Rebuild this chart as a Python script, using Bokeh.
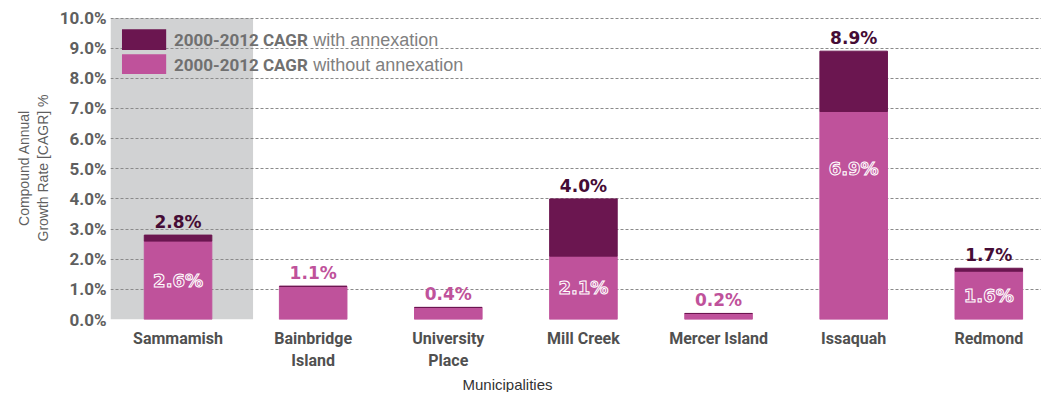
from bokeh.plotting import figure
from bokeh.models import Range1d, FixedTicker, Label, ColumnDataSource, Title
from bokeh.core.properties import value
from bokeh.embed import file_html
from bokeh.resources import INLINE

# ---- data ----
municipalities = ["Sammamish", "Bainbridge\nIsland", "University\nPlace", "Mill Creek",
                  "Mercer Island", "Issaquah", "Redmond"]
cagr_with_annexation = [2.8, 1.1, 0.4, 4.0, 0.2, 8.9, 1.7]
cagr_without_annexation = [2.6, 1.1, 0.4, 2.1, 0.2, 6.9, 1.6]
y_ticks = [0, 1, 2, 3, 4, 5, 6, 7, 8, 9, 10]

DARK = "#6b1650"
LIGHT = "#bf529b"
LABEL_DARK = "#450c35"
GRAY_TXT = "#5f5f5f"
BOLD_FONT = "Roboto"

idx = list(range(len(municipalities)))

p = figure(width=1041, height=392, output_backend="svg", toolbar_location=None,
           x_range=Range1d(-0.5, 6.39), y_range=Range1d(0, 10.05),
           min_border_left=110, min_border_right=0, min_border_top=16, min_border_bottom=73)
p.outline_line_color = None
p.background_fill_color = "white"

# gray highlight band behind Sammamish
p.quad(left=-0.5, right=0.555, bottom=0, top=10, fill_color="#d1d2d3", line_color=None, level="image")

# bars
p.vbar(x=idx, width=0.5, bottom=0, top=cagr_without_annexation, fill_color=LIGHT, line_color=LIGHT)
p.vbar(x=idx, width=0.5, bottom=cagr_without_annexation, top=cagr_with_annexation,
       fill_color=DARK, line_color=DARK)

# top labels
top_colors = [LABEL_DARK if w != wo else LIGHT for w, wo in zip(cagr_with_annexation, cagr_without_annexation)]
top_src = ColumnDataSource(dict(x=idx, y=cagr_with_annexation,
                                t=[f"{v:.1f}%" for v in cagr_with_annexation], c=top_colors))
p.text(x="x", y="y", text="t", source=top_src, text_color="c", text_align="center",
       text_baseline="bottom", y_offset=-3, text_font=value("DejaVu Sans"),
       text_font_style="bold", text_font_size="17px")

# inner labels (only where annexation changes the value)
ix, iy, it = [], [], []
for i, (w, wo) in enumerate(zip(cagr_with_annexation, cagr_without_annexation)):
    if w != wo:
        ix.append(i)
        iy.append(wo / 2 if wo < 5 else wo - 1.9)
        it.append(f"{wo:.1f}%")
p.text(x=ix, y=iy, text=it, text_color=LIGHT, text_outline_color="white",
       text_align="center", text_baseline="middle", text_font=value("DejaVu Sans"),
       text_font_style="bold", text_font_size="18px")

# axes
p.yaxis.ticker = FixedTicker(ticks=y_ticks)
p.yaxis.major_label_overrides = {t: f"{t:.1f}%" for t in y_ticks}
p.yaxis.axis_line_color = None
p.yaxis.major_tick_line_color = None
p.yaxis.minor_tick_line_color = None
p.yaxis.major_tick_out = 0
p.yaxis.major_tick_in = 0
p.yaxis.minor_tick_out = 0
p.yaxis.major_label_standoff = 4
p.yaxis.major_label_text_font = BOLD_FONT
p.yaxis.major_label_text_font_style = "bold"
p.yaxis.major_label_text_font_size = "17px"
p.yaxis.major_label_text_color = GRAY_TXT
p.yaxis.axis_label = "Compound Annual\nGrowth Rate [CAGR] %"
p.yaxis.axis_label_text_font = "Liberation Sans"
p.yaxis.axis_label_text_font_style = "normal"
p.yaxis.axis_label_text_font_size = "14px"
p.yaxis.axis_label_text_color = GRAY_TXT
p.yaxis.axis_label_standoff = 6

p.xaxis.ticker = FixedTicker(ticks=idx)
p.xaxis.major_label_overrides = {i: m for i, m in zip(idx, municipalities)}
p.xaxis.axis_line_color = None
p.xaxis.major_tick_line_color = None
p.xaxis.minor_tick_line_color = None
p.xaxis.major_tick_out = 0
p.xaxis.major_tick_in = 0
p.xaxis.minor_tick_out = 0
p.xaxis.major_label_standoff = 9
p.xaxis.major_label_text_font = BOLD_FONT
p.xaxis.major_label_text_font_style = "bold"
p.xaxis.major_label_text_font_size = "16px"
p.xaxis.major_label_text_color = "#505050"

p.xgrid.grid_line_color = None
p.ygrid.grid_line_color = "#8a8a8a"
p.ygrid.grid_line_dash = "3 2"
p.ygrid.grid_line_width = 1

# x axis title
p.add_layout(Title(text="Municipalities", align="left", offset=352, standoff=0,
                   text_font="Liberation Sans", text_font_style="normal",
                   text_font_size="15px", text_color="#333333"), "below")

# custom legend
p.quad(left=-0.415, right=-0.088, bottom=8.94, top=9.63, fill_color=DARK, line_color=None)
p.quad(left=-0.415, right=-0.088, bottom=8.14, top=8.80, fill_color=LIGHT, line_color=None)
for yy, rest in [(9.27, "with annexation"), (8.44, "without annexation")]:
    p.add_layout(Label(x=-0.03, y=yy, text="2000-2012 CAGR", text_baseline="middle",
                       text_font=BOLD_FONT, text_font_style="bold", text_font_size="17px",
                       text_color="#707070"))
    p.add_layout(Label(x=1.0, y=yy, text=rest, text_baseline="middle",
                       text_font="Liberation Sans", text_font_size="18px", text_color="#808080"))

open("out.html", "w").write(file_html(p, INLINE))
